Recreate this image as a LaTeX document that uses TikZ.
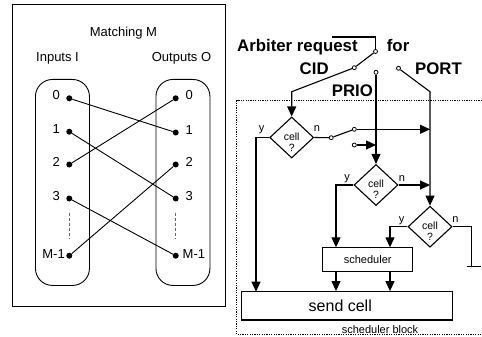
\documentclass[tikz,border=0pt]{standalone}
\usepackage{fontspec}
\setmainfont{Liberation Sans}
\usetikzlibrary{shapes.geometric,arrows.meta,calc}
\begin{document}
\begin{tikzpicture}[x=1pt,y=-1pt,
 font=\fontsize{13}{15}\selectfont,
 ln/.style={line width=1.1pt},
 arr/.style={line width=1.1pt,-{Triangle[length=10pt,width=9pt]}},
 thin/.style={line width=0.9pt},
 dot/.style={circle,fill=black,inner sep=0pt,minimum size=6pt},
 sw/.style={circle,draw,fill=white,line width=0.8pt,inner sep=0pt,minimum size=4pt},
 dia/.style={diamond,draw,line width=1.1pt,inner sep=0pt,minimum width=44pt,minimum height=41pt},
 boxx/.style={draw,line width=1.1pt,inner sep=0pt},
 sm/.style={font=\fontsize{11}{13}\selectfont,inner sep=0pt},
 cl/.style={font=\fontsize{10.5}{12}\selectfont,inner sep=0pt},
 big/.style={font=\fontsize{16.8}{19}\selectfont\bfseries,inner sep=0pt},
 lab/.style={inner sep=0pt},
]
\useasboundingbox (0,0) rectangle (482,337);

% ---------- left panel ----------
\node[draw,thin,anchor=north west,minimum width=213pt,minimum height=302pt,inner sep=0pt] (frame) at (12,4) {};
\node[lab,anchor=base] (title) at (123.5,36.7) {Matching M};
\node[lab,anchor=base] (inl) at (57.5,61.7) {Inputs I};
\node[lab,anchor=base] (outl) at (181.5,61.7) {Outputs O};

\node[draw,thin,rounded corners=17pt,anchor=north west,minimum width=54pt,minimum height=206pt,inner sep=0pt] (gin) at (35,79) {};
\node[draw,thin,rounded corners=17pt,anchor=north west,minimum width=54pt,minimum height=206pt,inner sep=0pt] (gout) at (155.5,79) {};

\node[dot] (i0) at (69.3,98.3) {};
\node[dot] (i1) at (69.3,131.7) {};
\node[dot] (i2) at (69.3,164.5) {};
\node[dot] (i3) at (69.3,198.5) {};
\node[dot] (iM) at (69.3,255.7) {};
\node[dot] (o0) at (175.7,98.3) {};
\node[dot] (o1) at (175.7,132.5) {};
\node[dot] (o2) at (175.7,164.5) {};
\node[dot] (o3) at (175.7,198.5) {};
\node[dot] (oM) at (175.7,255.7) {};

\node[lab,anchor=base east] (li0) at (60,99.5) {0};
\node[lab,anchor=base east] (li1) at (60,133) {1};
\node[lab,anchor=base east] (li2) at (60,166) {2};
\node[lab,anchor=base east] (li3) at (60,200) {3};
\node[lab,anchor=base east] (liM) at (65,258) {M-1};
\node[lab,anchor=base west] (lo0) at (185.5,99.5) {0};
\node[lab,anchor=base west] (lo1) at (185.5,134) {1};
\node[lab,anchor=base west] (lo2) at (185.5,166) {2};
\node[lab,anchor=base west] (lo3) at (185.5,200) {3};
\node[lab,anchor=base west] (loM) at (182.5,258) {M-1};

\draw[thin] (i0) -- (o1);
\draw[thin] (i1) -- (o3);
\draw[thin] (i2) -- (o0);
\draw[thin] (i3) -- (oM);
\draw[thin] (iM) -- (o2);
\draw[line width=0.9pt,gray!80!black,dash pattern=on 3pt off 2pt,shorten <=11pt,shorten >=14pt] (i3) -- (iM);
\draw[line width=0.9pt,gray!80!black,dash pattern=on 3pt off 2pt,shorten <=11pt,shorten >=14pt] (o3) -- (oM);

% ---------- right panel ----------
\coordinate (bxTR) at (482,100.7);
\coordinate (bxBL) at (236.7,334.5);
\coordinate (bxBR) at (482,334.5);
\draw[line width=0.7pt,dash pattern=on 1.2pt off 1.2pt] (bxTR) -| (bxBL) -- (bxBR);

\node[big,anchor=base west] (arb) at (237,51.7) {Arbiter request};
\node[big,anchor=base west] (for) at (386.7,51.7) {for};
\node[big,anchor=base west] (cidl) at (299.5,74.3) {CID};
\node[big,anchor=base west] (portl) at (415,74.3) {PORT};
\node[big,anchor=base west] (priol) at (331.7,96) {PRIO};

\coordinate (topL) at (331.5,37);
\node[sw] (piv) at (375.5,51.5) {};
\node[sw] (cid) at (354.3,67.7) {};
\node[sw] (prio) at (376,72.3) {};
\node[sw] (port) at (398.5,68.3) {};
\draw[ln] (topL) -| (piv.north);
\draw[ln] (piv) -- (cid);

\node[dia] (d1) at (291.7,137.5) {};
\node[dia] (d2) at (376,185) {};
\node[dia] (d3) at (430,226.7) {};
\foreach \d in {d1,d2,d3}{
  \node[cl] at ($(\d.center)+(0,-1)$) {cell};
  \node[cl] at ($(\d.center)+(0,10)$) {?};
}
\node[sm] (y1) at (261.5,130) {y};
\node[sm] (n1) at (317,129) {n};
\node[sm] (y2) at (347,179) {y};
\node[sm] (n2) at (402,179) {n};
\node[sm] (y3) at (401.5,221) {y};
\node[sm] (n3) at (455.5,220) {n};

\node[boxx,minimum width=90pt,minimum height=23.7pt,font=\fontsize{11}{13}\selectfont] (sch) at (367.7,259.2) {scheduler};
\node[boxx,minimum width=211pt,minimum height=28.3pt] (send) at (347.2,305.8) {};
\node[lab,font=\fontsize{16}{18}\selectfont] (sendt) at (340.3,306) {send cell};
\node[sm] (blk) at (380,329.3) {scheduler block};

\coordinate (cidk) at (291.7,91.7);
\coordinate (portk) at (430,91.7);
\draw[arr] (cid) -- (cidk) -- (d1.north);
\draw[arr] (prio) -- (d2.north);
\draw[arr] (port) -- (portk) -- (d3.north);

\coordinate (sA) at (256,291.7);
\draw[arr] (d1.west) -| (sA);

\node[sw] (s1a) at (331.2,137.7) {};
\node[sw] (s1b) at (354.3,129.3) {};
\node[sw] (s1c) at (354.3,145) {};
\coordinate (portm1) at (430,129.3);
\coordinate (priom) at (376,145);
\draw[ln] (d1.east) -- (s1a);
\draw[ln] (s1a) -- (s1b);
\draw[arr] (s1b) -- (portm1);
\draw[arr] (s1c) -- (priom);

\coordinate (schA) at (336,247.3);
\coordinate (schB) at (390,247.3);
\coordinate (portm2) at (430,185);
\draw[arr] (d2.west) -| (schA);
\draw[arr] (d2.east) -- (portm2);
\draw[arr] (d3.west) -| (schB);

\coordinate (gnd) at (471.7,266.7);
\coordinate (gndL) at (466.5,266.7);
\coordinate (gndR) at (481,266.7);
\draw[ln] (d3.east) -| (gnd);
\draw[ln] (gndL) -- (gndR);

\draw[arr] (sch.south -| schA) -- (schA |- send.north);
\draw[arr] (sch.south -| schB) -- (schB |- send.north);
\end{tikzpicture}
\end{document}
